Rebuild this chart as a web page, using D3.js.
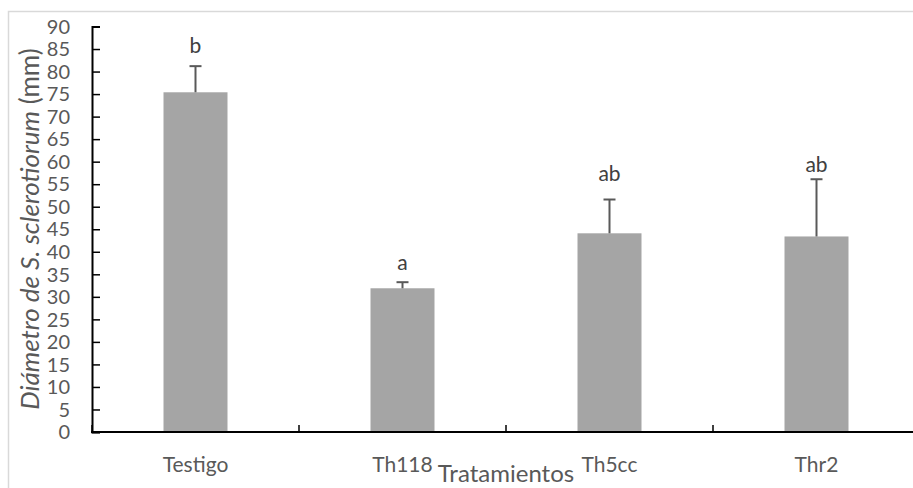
<!DOCTYPE html>
<html><head><meta charset="utf-8">
<script src="https://cdn.jsdelivr.net/npm/d3@7"></script>
<style>body{margin:0;background:#fff}svg{display:block}text{font-family:Lato,"Open Sans",sans-serif}</style>
</head><body><svg id="c" width="913" height="488"></svg>
<script>
const categories = ["Testigo", "Th118", "Th5cc", "Thr2"];
const means = [75.4, 31.9, 44.1, 43.4];
const errors = [5.8, 1.35, 7.5, 12.7];
const letters = ["b", "a", "ab", "ab"];
const letterPos = [84.2, 35.9, 55.6, 57.6];
const yTicks = d3.range(0, 91, 5);

const svg = d3.select("#c");
const W = 913, H = 488;
svg.append("rect").attr("x", 8.5).attr("y", 11.5).attr("width", 1000).attr("height", 1000)
  .attr("fill", "none").attr("stroke", "#d9d9d9").attr("stroke-width", 1.5);

const x0 = 92, bandW = 207;
const x = d3.scaleBand().domain(categories).range([x0, x0 + bandW * categories.length]).paddingInner(0).paddingOuter(0);
const y = d3.scaleLinear().domain([0, 90]).range([432, 26.5]);
const barW = 64;

const g = svg.append("g");
g.selectAll(".bar").data(categories).enter().append("rect")
  .attr("x", d => x(d) + x.bandwidth() / 2 - barW / 2)
  .attr("width", barW)
  .attr("y", (d, i) => y(means[i]))
  .attr("height", (d, i) => y(0) - y(means[i]))
  .attr("fill", "#a5a5a5");
categories.forEach((c, i) => {
  const cx = x(c) + x.bandwidth() / 2;
  g.append("line").attr("x1", cx).attr("x2", cx).attr("y1", y(means[i])).attr("y2", y(means[i] + errors[i]))
    .attr("stroke", "#595959").attr("stroke-width", 2);
  g.append("line").attr("x1", cx - 6).attr("x2", cx + 6).attr("y1", y(means[i] + errors[i])).attr("y2", y(means[i] + errors[i]))
    .attr("stroke", "#595959").attr("stroke-width", 2);
  g.append("text").attr("x", cx).attr("y", y(letterPos[i])).attr("text-anchor", "middle")
    .attr("font-size", 21).attr("fill", "#404040").text(letters[i]);
});

const yAxis = g.append("g").attr("transform", `translate(${x0},0)`)
  .call(d3.axisRight(y).tickValues(yTicks).tickSize(8).tickFormat(""));
yAxis.select(".domain").attr("stroke", "#000").attr("stroke-width", 2);
yAxis.selectAll(".tick line").attr("stroke", "#000").attr("stroke-width", 1.5);
g.selectAll(".ylab").data(yTicks).enter().append("text")
  .attr("x", 70).attr("y", d => y(d)).attr("dy", "0.36em").attr("text-anchor", "end")
  .attr("font-size", 20).attr("fill", "#595959").text(d => d);

const xTickPos = d3.range(0, categories.length + 1).map(i => x0 + i * bandW);
g.append("line").attr("x1", x0 - 1).attr("x2", W).attr("y1", y(0)).attr("y2", y(0))
  .attr("stroke", "#000").attr("stroke-width", 2);
g.selectAll(".xt").data(xTickPos).enter().append("line")
  .attr("x1", d => d).attr("x2", d => d).attr("y1", y(0)).attr("y2", y(0) - 7)
  .attr("stroke", "#000").attr("stroke-width", 1.5);
g.selectAll(".xlab").data(categories).enter().append("text")
  .attr("x", d => x(d) + x.bandwidth() / 2).attr("y", 472).attr("text-anchor", "middle")
  .attr("font-size", 21).attr("fill", "#595959").text(d => d);

svg.append("text").attr("x", (x0 + x0 + bandW * 4) / 2).attr("y", 482).attr("text-anchor", "middle")
  .attr("font-size", 24).attr("fill", "#595959").text("Tratamientos");
const yt = svg.append("text").attr("transform", "translate(39,229) rotate(-90)").attr("text-anchor", "middle")
  .attr("font-size", 26).attr("fill", "#595959");
yt.append("tspan").attr("font-style", "italic").text("Diámetro de S. sclerotiorum");
yt.append("tspan").text(" (mm)");
</script></body></html>
